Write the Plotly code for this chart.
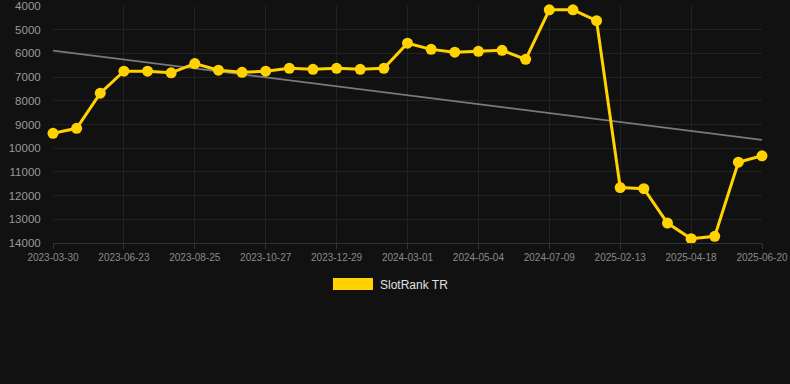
import plotly.graph_objects as go

dates = [
    "2023-03-30", "2023-04-28", "2023-05-26", "2023-06-23", "2023-07-14", "2023-08-04",
    "2023-08-25", "2023-09-15", "2023-10-06", "2023-10-27", "2023-11-17", "2023-12-08",
    "2023-12-29", "2024-01-19", "2024-02-09", "2024-03-01", "2024-03-22", "2024-04-12",
    "2024-05-04", "2024-05-25", "2024-06-15", "2024-07-09", "2024-07-30", "2024-08-20",
    "2025-02-13", "2025-03-06", "2025-03-27", "2025-04-18", "2025-05-09", "2025-05-30",
    "2025-06-20",
]
rank = [
    9370, 9160, 7680, 6750, 6750, 6820, 6430, 6710, 6800, 6750, 6630, 6670,
    6630, 6670, 6630, 5570, 5830, 5950, 5910, 5870, 6250, 4160, 4160, 4620,
    11660, 11710, 13160, 13820, 13720, 10590, 10320,
]
trend_ends = [5880, 9650]
y_ticks = [4000, 5000, 6000, 7000, 8000, 9000, 10000, 11000, 12000, 13000, 14000]
series_name = "SlotRank TR"

BG = "#111111"
GOLD = "#FFD200"
W, H = 790, 384
L, R, T, B = 53, 28, 6, 141
pw, ph = W - L - R, H - T - B

fig = go.Figure()
fig.add_trace(go.Scatter(
    x=[dates[0], dates[-1]], y=trend_ends, mode="lines",
    line=dict(color="#7a7a7a", width=1.8), showlegend=False, hoverinfo="skip",
))
fig.add_trace(go.Scatter(
    x=dates, y=rank, mode="lines+markers", name=series_name,
    line=dict(color=GOLD, width=3), marker=dict(color=GOLD, size=11),
    cliponaxis=False, showlegend=False,
))

def px_x(p):
    return (p - L) / pw

def px_y(p):
    return (H - B - p) / ph

fig.add_shape(type="rect", xref="paper", yref="paper",
              x0=px_x(333), x1=px_x(373), y0=px_y(290), y1=px_y(278),
              fillcolor=GOLD, line=dict(width=0))
fig.add_annotation(xref="paper", yref="paper", x=px_x(378), y=px_y(284.5),
                   text=series_name, showarrow=False, xanchor="left", yanchor="middle",
                   font=dict(size=12, color="#e0e0e0"))

tick_idx = list(range(0, len(dates), 3))
fig.update_layout(
    width=W, height=H,
    margin=dict(l=L, r=R, t=T, b=B, pad=0, autoexpand=False),
    paper_bgcolor=BG, plot_bgcolor=BG,
    font=dict(family="Liberation Sans, Arial, sans-serif", color="#999999"),
    showlegend=False,
    xaxis=dict(
        type="category", categoryorder="array", categoryarray=dates,
        range=[0, len(dates) - 1], automargin=False,
        tickvals=[dates[i] for i in tick_idx], ticktext=[dates[i] for i in tick_idx],
        tickfont=dict(size=10, color="#8a8a8a"),
        showgrid=True, gridcolor="#222222", gridwidth=1,
        showline=True, linecolor="#333333", linewidth=1,
        ticks="outside", ticklen=5, tickcolor="#333333",
        zeroline=False,
    ),
    yaxis=dict(
        range=[14000, 4000], tickvals=y_ticks, ticktext=[str(v) for v in y_ticks],
        tickfont=dict(size=11.5, color="#999999"), automargin=False,
        showgrid=True, gridcolor="#222222", gridwidth=1,
        zeroline=False, ticks="outside", ticklen=9, tickcolor=BG,
    ),
)
fig.write_html("out.html", config={"displayModeBar": False},
               post_script="document.body.style.margin='0';document.body.style.background='#111111';document.body.style.overflow='hidden';")
